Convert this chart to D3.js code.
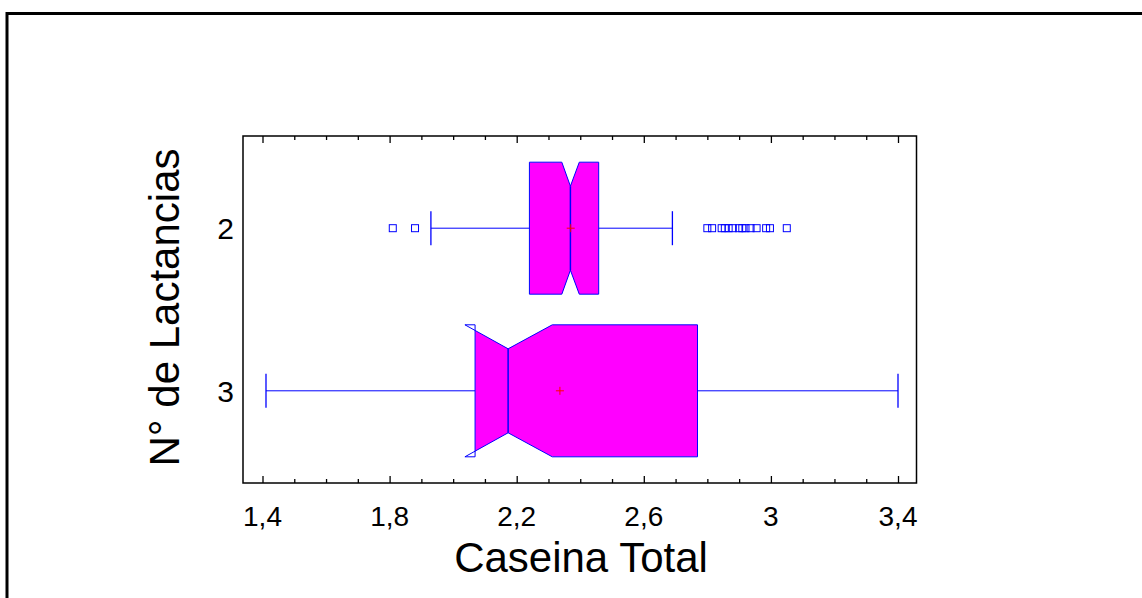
<!DOCTYPE html>
<html>
<head>
<meta charset="utf-8">
<script src="https://cdn.jsdelivr.net/npm/d3@7"></script>
<style>
  html, body { margin: 0; padding: 0; background: #fff; }
  svg { display: block; font-family: "Liberation Sans", Arial, sans-serif; }
</style>
</head>
<body>
<svg id="chart" width="1142" height="598"></svg>
<script>
// Notched box-and-whisker summary of "Caseina Total" by number of lactations
const categories  = ["2", "3"];
const q1          = [2.240, 2.069];
const medians     = [2.369, 2.173];
const q3          = [2.458, 2.769];
const notchLow    = [2.342, 2.037];
const notchHigh   = [2.397, 2.312];
const whiskerLow  = [1.930, 1.411];
const whiskerHigh = [2.690, 3.400];
const means       = [2.370, 2.336];
const outliers2   = [1.81, 1.88, 2.800, 2.815, 2.845, 2.855, 2.867, 2.880,
                     2.900, 2.910, 2.920, 2.936, 2.955, 2.985, 2.997, 3.050];
const outliers3   = [];
const xTickValues = [1.4, 1.8, 2.2, 2.6, 3.0, 3.4];
const xTickLabels = ["1,4", "1,8", "2,2", "2,6", "3", "3,4"];

const outliers = [outliers2, outliers3];
const boxes = categories.map((c, i) => ({
  cat: c, q1: q1[i], med: medians[i], q3: q3[i],
  nlo: notchLow[i], nhi: notchHigh[i],
  wlo: whiskerLow[i], whi: whiskerHigh[i], mean: means[i], out: outliers[i]
}));

const svg = d3.select("#chart");
const frame = { left: 243, top: 136, right: 916.5, bottom: 483 };

const x = d3.scaleLinear().domain([1.4, 3.4]).range([262.5, 898]);
const y = d3.scalePoint().domain(categories).range([frame.top, frame.bottom]).padding(0.567);

const boxHalf = 66, notchInset = 24, capHalf = 17;
const BLUE = "#0000ff", FILL = "#ff00ff";

// outer page frame (top and left edges visible)
svg.append("rect")
  .attr("x", 7).attr("y", 13.5).attr("width", 1200).attr("height", 700)
  .attr("fill", "none").attr("stroke", "#000").attr("stroke-width", 3);

// plot frame
svg.append("rect")
  .attr("x", frame.left).attr("y", frame.top)
  .attr("width", frame.right - frame.left).attr("height", frame.bottom - frame.top)
  .attr("fill", "none").attr("stroke", "#000").attr("stroke-width", 1.5);

// x ticks: major every 0.4 (labelled), minor every 0.1, on bottom and top edges
const minor = d3.range(14, 35).map(v => v / 10);
const bottomAxis = d3.axisBottom(x).tickValues(minor).tickSize(-4).tickFormat("");
const topAxis = d3.axisTop(x).tickValues(minor).tickSize(-4).tickFormat("");
const gB = svg.append("g").attr("transform", `translate(0,${frame.bottom})`).call(bottomAxis);
const gT = svg.append("g").attr("transform", `translate(0,${frame.top})`).call(topAxis);
[gB, gT].forEach(g => {
  g.select(".domain").remove();
  g.selectAll(".tick line").attr("stroke", "#000").attr("stroke-width", 1.3)
    .filter(d => xTickValues.some(v => Math.abs(v - d) < 1e-6))
    .attr("y2", g === gB ? -7 : 7);
});

// x tick labels
svg.append("g").selectAll("text").data(xTickValues).join("text")
  .attr("x", d => x(d)).attr("y", 526)
  .attr("text-anchor", "middle").attr("font-size", 28).attr("fill", "#000")
  .text((d, i) => xTickLabels[i]);

// y category labels
svg.append("g").selectAll("text").data(categories).join("text")
  .attr("x", 234).attr("y", d => y(d)).attr("dy", "0.36em")
  .attr("text-anchor", "end").attr("font-size", 30).attr("fill", "#000")
  .text(d => d);

// axis titles
svg.append("text")
  .attr("x", 581).attr("y", 572)
  .attr("text-anchor", "middle").attr("font-size", 42).attr("fill", "#000")
  .text("Caseina Total");
svg.append("text")
  .attr("transform", `translate(179,${(frame.top + frame.bottom) / 2 - 2}) rotate(-90)`)
  .attr("text-anchor", "middle").attr("font-size", 42).attr("fill", "#000")
  .text("N° de Lactancias");

// boxes
const defs = svg.append("defs");
const g = svg.append("g");
boxes.forEach((b, i) => {
  const cy = y(b.cat), top = cy - boxHalf, bot = cy + boxHalf;
  const pts = [
    [x(b.q1), top], [x(b.nlo), top], [x(b.med), top + notchInset], [x(b.nhi), top],
    [x(b.q3), top], [x(b.q3), bot], [x(b.nhi), bot], [x(b.med), bot - notchInset],
    [x(b.nlo), bot], [x(b.q1), bot]
  ];
  const path = "M" + pts.map(p => p.join(",")).join("L") + "Z";

  // whiskers
  g.append("line").attr("x1", x(b.wlo)).attr("x2", x(b.q1)).attr("y1", cy).attr("y2", cy)
    .attr("stroke", BLUE).attr("stroke-width", 1);
  g.append("line").attr("x1", x(b.q3)).attr("x2", x(b.whi)).attr("y1", cy).attr("y2", cy)
    .attr("stroke", BLUE).attr("stroke-width", 1);
  [b.wlo, b.whi].forEach(v => g.append("line")
    .attr("x1", x(v)).attr("x2", x(v)).attr("y1", cy - capHalf).attr("y2", cy + capHalf)
    .attr("stroke", BLUE).attr("stroke-width", 1.3));

  // fill limited to the interquartile range, outline drawn in full
  const clipId = "clip" + i;
  defs.append("clipPath").attr("id", clipId).append("rect")
    .attr("x", x(b.q1)).attr("y", top).attr("width", x(b.q3) - x(b.q1)).attr("height", bot - top);
  g.append("path").attr("d", path).attr("fill", FILL).attr("stroke", "none")
    .attr("clip-path", `url(#${clipId})`);
  g.append("path").attr("d", path).attr("fill", "none").attr("stroke", BLUE).attr("stroke-width", 1);

  // median
  g.append("line").attr("x1", x(b.med)).attr("x2", x(b.med))
    .attr("y1", top + notchInset).attr("y2", bot - notchInset)
    .attr("stroke", BLUE).attr("stroke-width", 1.5);

  // mean marker
  const mx = x(b.mean);
  g.append("path").attr("d", `M${mx - 4},${cy}H${mx + 4}M${mx},${cy - 4}V${cy + 4}`)
    .attr("stroke", "#ff0000").attr("stroke-width", 1).attr("fill", "none");

  // outliers
  g.append("g").selectAll("rect").data(b.out).join("rect")
    .attr("x", d => x(d) - 3.5).attr("y", cy - 3.5).attr("width", 7).attr("height", 7)
    .attr("fill", "none").attr("stroke", BLUE).attr("stroke-width", 1);
});
</script>
</body>
</html>
